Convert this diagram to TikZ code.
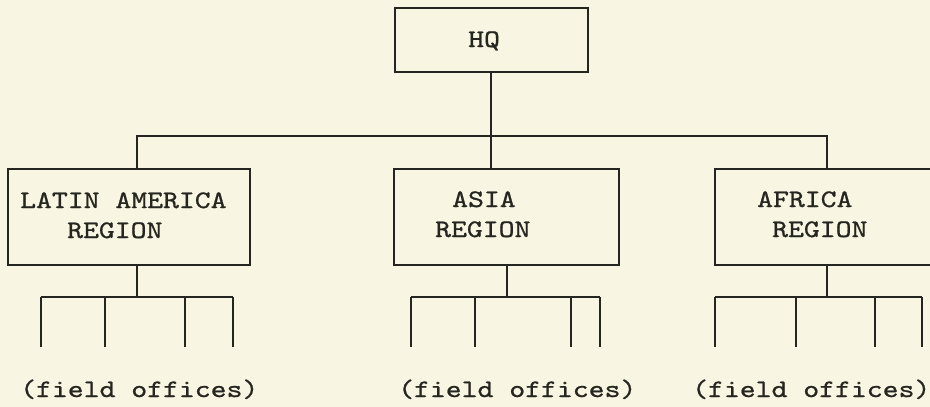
\documentclass[tikz,border=0pt]{standalone}
\usepackage{fontspec}
\setmonofont{lmmono10-regular.otf}[FakeStretch=1.2,FakeBold=0.9]
\definecolor{paper}{RGB}{248,246,226}
\definecolor{ink}{RGB}{38,38,32}
\begin{document}
\begin{tikzpicture}[x=1pt,y=-1pt,
  box/.style={draw=ink,line width=2pt,rectangle,inner sep=0pt},
  lbl/.style={inner sep=0pt,anchor=base west,text=ink,font=\ttfamily\fontsize{25.2}{30}\selectfont},
  conn/.style={draw=ink,line width=2pt}]
\fill[paper] (0,0) rectangle (930,407);
\useasboundingbox (0,0) rectangle (930,407);
\clip (0,0) rectangle (930,407);
% boxes
\node[box,minimum width=193pt,minimum height=64pt] (hq) at (491,40) {};
\node[box,minimum width=242pt,minimum height=96pt] (lat) at (129,217) {};
\node[box,minimum width=225pt,minimum height=96pt] (asia) at (506.5,217) {};
\node[box,minimum width=230pt,minimum height=96pt] (afr) at (830,217) {};
% texts
\node[lbl] (thq) at (468,47) {HQ};
\node[lbl] (tlat1) at (20,208) {LATIN AMERICA};
\node[lbl] (tlat2) at (67,238) {REGION};
\node[lbl] (tasia1) at (452,207) {ASIA};
\node[lbl] (tasia2) at (435,237) {REGION};
\node[lbl] (tafr1) at (757,207) {AFRICA};
\node[lbl] (tafr2) at (772,237) {REGION};
\node[lbl] (flat) at (20,397) {(field offices)};
\node[lbl] (fasia) at (398,397) {(field offices)};
\node[lbl] (fafr) at (692,397) {(field offices)};
% top connectors
\coordinate (latT) at (137,136);
\coordinate (afrT) at (827,136);
\draw[conn] (hq.south) -- (hq.south |- asia.north);
\draw[conn] (latT |- lat.north) -- (latT) -- (afrT) -- (afrT |- afr.north);
% field office buses
\foreach \nm/\d/\a/\b/\c/\e in {lat/137/41/105/185/233, asia/507/411/475/571/600, afr/827/715/796/875/922}{
  \coordinate (\nm bus) at (\d,297);
  \coordinate (\nm A) at (\a,297);
  \coordinate (\nm E) at (\e,297);
  \draw[conn] (\nm bus |- \nm.south) -- (\nm bus);
  \draw[conn] (\nm A) -- (\nm E);
  \foreach \t in {\a,\b,\c,\e}{
    \coordinate (\nm t\t) at (\t,297);
    \coordinate (\nm s\t) at (\t,347);
    \draw[conn] (\nm t\t) -- (\nm s\t);
  }
}
\end{tikzpicture}
\end{document}
